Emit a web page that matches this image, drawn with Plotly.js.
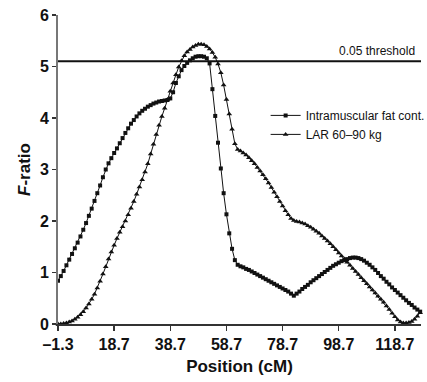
<!DOCTYPE html>
<html>
<head>
<meta charset="utf-8">
<script src="https://cdn.plot.ly/plotly-3.0.1.min.js"></script>
<style>html,body{margin:0;padding:0;background:#fff;}#chart{width:427px;height:382px;}</style>
</head>
<body>
<div id="chart"></div>
<script>
// Position along chromosome (cM)
const positions = [
  -1.3,-0.3,0.7,1.7,2.7,3.7,4.7,5.7,6.7,7.7,
  8.7,9.7,10.7,11.7,12.7,13.7,14.7,15.7,16.7,17.7,
  18.7,19.7,20.7,21.7,22.7,23.7,24.7,25.7,26.7,27.7,
  28.7,29.7,30.7,31.7,32.7,33.7,34.7,35.7,36.7,37.7,
  38.7,39.7,40.7,41.7,42.7,43.7,44.7,45.7,46.7,47.7,
  48.7,49.7,50.7,51.7,52.7,53.7,54.7,55.7,56.7,57.7,
  58.7,59.7,60.7,61.7,62.7,63.7,64.7,65.7,66.7,67.7,
  68.7,69.7,70.7,71.7,72.7,73.7,74.7,75.7,76.7,77.7,
  78.7,79.7,80.7,81.7,82.7,83.7,84.7,85.7,86.7,87.7,
  88.7,89.7,90.7,91.7,92.7,93.7,94.7,95.7,96.7,97.7,
  98.7,99.7,100.7,101.7,102.7,103.7,104.7,105.7,106.7,107.7,
  108.7,109.7,110.7,111.7,112.7,113.7,114.7,115.7,116.7,117.7,
  118.7,119.7,120.7,121.7,122.7,123.7,124.7,125.7,126.7,127.7
];

// F-ratio, Intramuscular fat content
const imfFatio = [
  0.84,0.93,1.03,1.14,1.25,1.36,1.47,1.58,1.70,1.83,
  1.96,2.10,2.24,2.39,2.54,2.69,2.85,3.00,3.12,3.22,
  3.32,3.41,3.51,3.61,3.71,3.80,3.89,3.96,4.03,4.09,
  4.14,4.18,4.22,4.25,4.28,4.30,4.32,4.33,4.34,4.35,
  4.38,4.50,4.68,4.81,4.93,5.01,5.07,5.12,5.16,5.19,
  5.20,5.20,5.19,5.16,5.06,4.56,4.04,3.52,3.02,2.54,
  2.13,1.76,1.46,1.24,1.15,1.12,1.10,1.07,1.05,1.02,
  0.99,0.96,0.93,0.90,0.87,0.84,0.81,0.78,0.75,0.72,
  0.69,0.66,0.63,0.59,0.55,0.59,0.63,0.68,0.72,0.76,
  0.81,0.85,0.89,0.93,0.97,1.01,1.05,1.09,1.13,1.16,
  1.19,1.22,1.24,1.26,1.28,1.29,1.29,1.28,1.26,1.23,
  1.19,1.15,1.10,1.05,0.99,0.93,0.88,0.82,0.77,0.71,
  0.66,0.61,0.56,0.51,0.46,0.41,0.37,0.32,0.28,0.24
];

// F-ratio, LAR 60-90 kg
const larFratio = [
  0.00,0.00,0.01,0.02,0.04,0.06,0.09,0.13,0.18,0.24,
  0.31,0.39,0.48,0.58,0.70,0.83,0.97,1.11,1.26,1.40,
  1.53,1.66,1.78,1.89,2.00,2.12,2.25,2.38,2.52,2.66,
  2.80,2.95,3.11,3.30,3.49,3.68,3.86,4.03,4.19,4.36,
  4.52,4.68,4.84,4.99,5.11,5.21,5.28,5.33,5.38,5.41,
  5.43,5.43,5.42,5.39,5.34,5.27,5.18,5.05,4.88,4.64,
  4.36,4.08,3.78,3.50,3.39,3.36,3.32,3.28,3.23,3.17,
  3.11,3.04,2.97,2.90,2.82,2.74,2.65,2.56,2.47,2.38,
  2.29,2.20,2.12,2.05,2.01,1.99,1.98,1.96,1.94,1.91,
  1.88,1.84,1.80,1.76,1.71,1.66,1.61,1.56,1.50,1.44,
  1.38,1.32,1.26,1.20,1.14,1.08,1.02,0.96,0.90,0.84,
  0.78,0.72,0.66,0.60,0.54,0.48,0.42,0.35,0.28,0.21,
  0.14,0.08,0.04,0.02,0.02,0.03,0.05,0.09,0.15,0.22
];

const seriesNames = ["Intramuscular fat cont.", "LAR 60\u201390 kg"];
const threshold = 5.1;
const thresholdLabel = "0.05 threshold";
const xTickVals = [-1.3, 18.7, 38.7, 58.7, 78.7, 98.7, 118.7];
const xTickText = ["\u20131.3", "18.7", "38.7", "58.7", "78.7", "98.7", "118.7"];
const yTickVals = [0, 1, 2, 3, 4, 5, 6];

const FONT = "Liberation Sans, Arial, Helvetica, sans-serif";
const INK = "#111";

const traces = [
  {
    x: positions, y: imfFatio, name: seriesNames[0], type: "scatter", mode: "lines+markers",
    line: {color: INK, width: 1},
    marker: {symbol: "square", size: 4, color: INK},
    cliponaxis: false
  },
  {
    x: positions, y: larFratio, name: seriesNames[1], type: "scatter", mode: "lines+markers",
    line: {color: INK, width: 1},
    marker: {symbol: "triangle-up", size: 5, color: INK},
    cliponaxis: false
  }
];

const layout = {
  width: 427, height: 382,
  margin: {l: 58, r: 6, t: 15, b: 58, autoexpand: false},
  paper_bgcolor: "#fff", plot_bgcolor: "#fff",
  font: {family: FONT, color: "#000"},
  showlegend: true,
  legend: {
    x: 0.572, y: 0.722, xanchor: "left", yanchor: "top",
    bgcolor: "rgba(0,0,0,0)", borderwidth: 0,
    font: {family: FONT, size: 12, color: "#111"},
    tracegroupgap: 0
  },
  xaxis: {
    range: [-1.3, 128], automargin: false,
    tickmode: "array", tickvals: xTickVals, ticktext: xTickText,
    ticks: "outside", ticklen: 5, tickwidth: 1.5, tickcolor: "#333",
    showline: true, linecolor: "#333", linewidth: 2,
    showgrid: false, zeroline: false,
    tickfont: {family: FONT, size: 16, weight: "bold", color: "#111"},
    title: {text: "Position (cM)", font: {family: FONT, size: 17, weight: "bold", color: "#111"}, standoff: 8}
  },
  yaxis: {
    range: [0, 6], automargin: true,
    tickmode: "array", tickvals: yTickVals,
    ticks: "outside", ticklen: 4, tickwidth: 1.5, tickcolor: "#333",
    showline: true, linecolor: "#777", linewidth: 2,
    showgrid: false, zeroline: false,
    tickfont: {family: FONT, size: 16, weight: "bold", color: "#111"},
    title: {text: "<i>F</i>-ratio", font: {family: FONT, size: 17, weight: "bold", color: "#111"}, standoff: 5}
  },
  shapes: [
    {type: "line", xref: "paper", x0: 0, x1: 1, yref: "y", y0: threshold, y1: threshold,
     line: {color: INK, width: 2}}
  ],
  annotations: [
    {xref: "paper", x: 1, xanchor: "right", xshift: -4, yref: "y", y: threshold, yanchor: "bottom", yshift: 1,
     text: thresholdLabel, showarrow: false, font: {family: FONT, size: 12, color: "#111"}}
  ]
};

Plotly.newPlot("chart", traces, layout, {displayModeBar: false, staticPlot: true});
</script>
</body>
</html>
